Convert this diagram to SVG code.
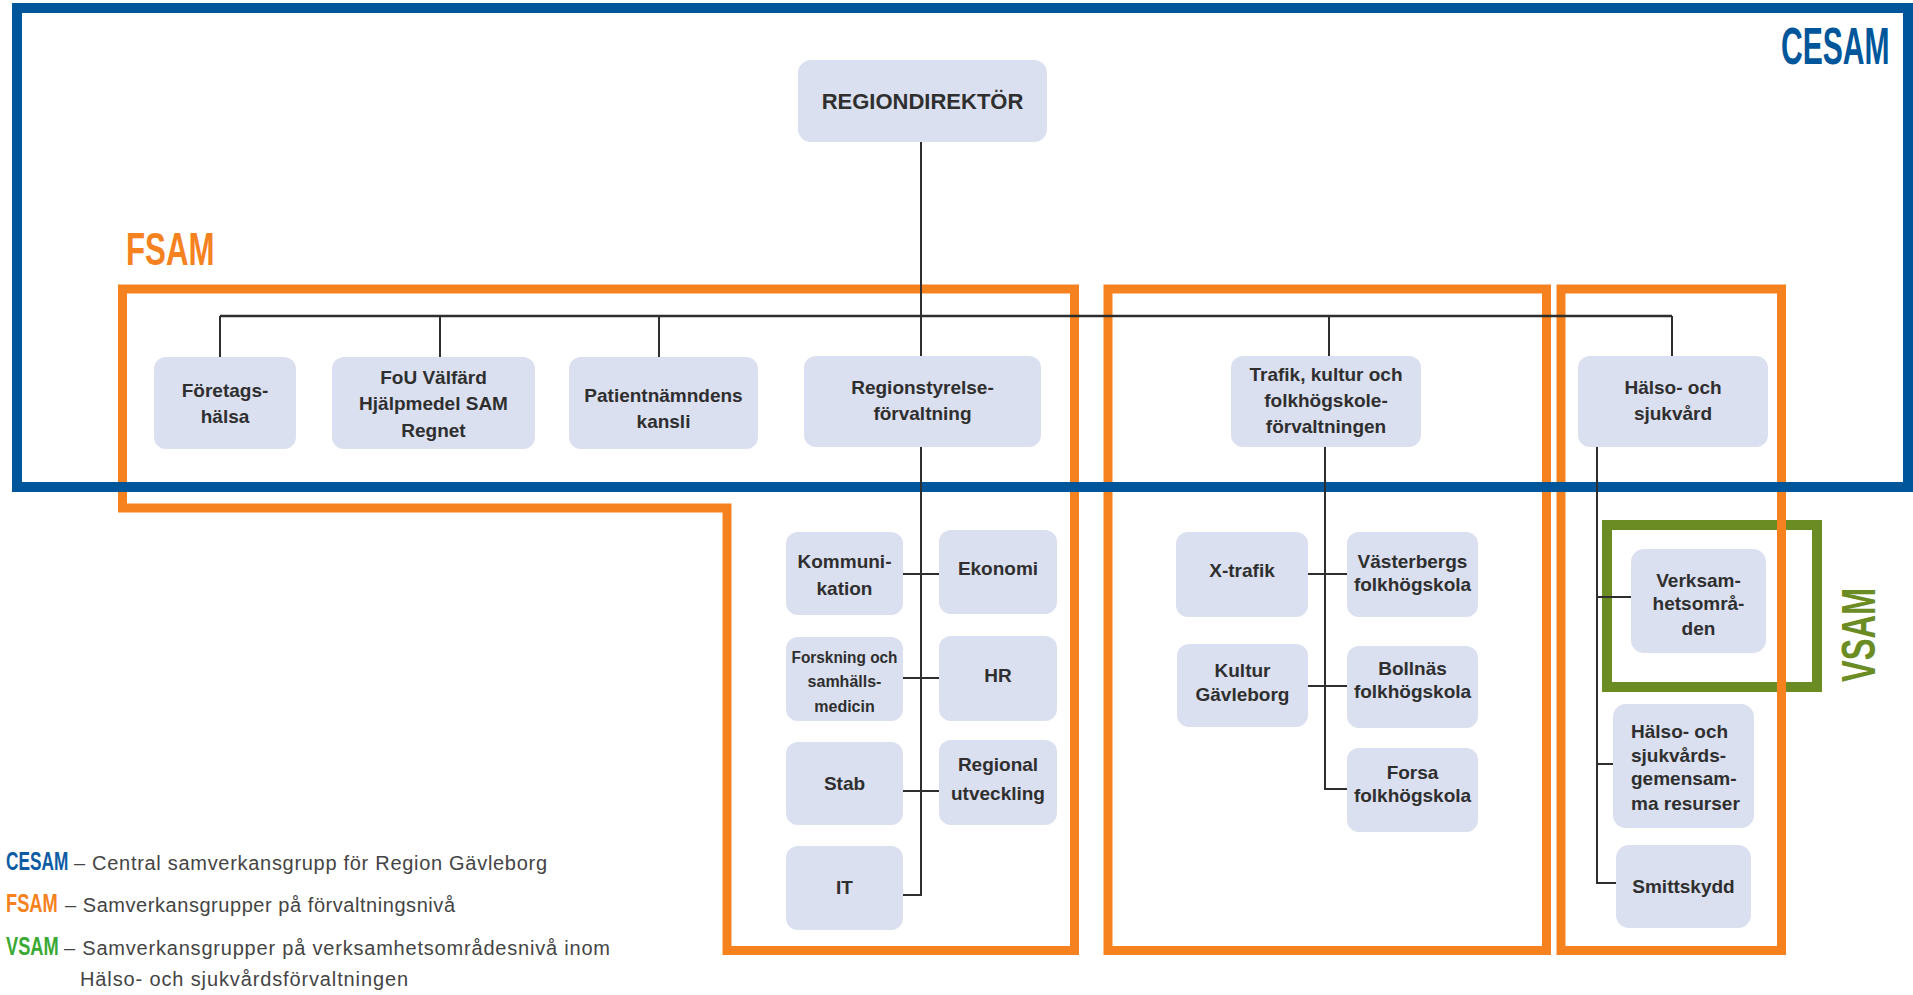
<svg xmlns="http://www.w3.org/2000/svg" width="1913" height="995" viewBox="0 0 1913 995">
<style>
.node rect{fill:#dbe0f0}
.node text{font-family:"Liberation Sans",Arial,sans-serif;font-weight:bold;font-size:19px;fill:#2f2f2f;text-anchor:middle}
.node text.sm{font-size:16px}
.node text.left{text-anchor:start}
.conn line{stroke:#2e2e2e;stroke-width:2;fill:none}
.orange{fill:none;stroke:#f5821f;stroke-width:9}
.green{fill:none;stroke:#6b8b23;stroke-width:10}
.blue{fill:none;stroke:#00569a;stroke-width:10}
.acr{font-family:"Liberation Sans",Arial,sans-serif;font-weight:bold}
.leg{font-family:"Liberation Sans",Arial,sans-serif;font-size:20px;fill:#444}
</style>
<rect width="1913" height="995" fill="#ffffff"/>

<g id="frames">
  <rect id="vsam-frame" class="green" x="1607" y="525" width="210" height="162"/>
  <path id="fsam-frame-1" class="orange" d="M122.5 289 H1074.5 V950.5 H727 V508 H122.5 Z"/>
  <rect id="fsam-frame-2" class="orange" x="1108" y="289" width="438.5" height="661.5"/>
  <rect id="fsam-frame-3" class="orange" x="1561" y="289" width="220.5" height="661.5"/>
  <rect id="cesam-frame" class="blue" x="17" y="8" width="1891" height="479"/>
</g>

<g id="group-labels">
  <text class="acr" transform="matrix(0.59,0,0,1,1781,64)" x="0" y="0" font-size="51" fill="#00569a">CESAM</text>
  <text class="acr" transform="matrix(0.68,0,0,1,126,265)" x="0" y="0" font-size="46" fill="#f5821f">FSAM</text>
  <text class="acr" transform="matrix(0,-0.665,1,0,1875,682)" x="0" y="0" font-size="49" fill="#6b8b23">VSAM</text>
</g>

<g id="nodes">
  <g id="n-regiondirektor" class="node"><rect x="798" y="60" width="249" height="82" rx="13"/><text x="922.5" y="109" style="font-size:22px">REGIONDIREKTÖR</text></g>

  <g id="n-foretagshalsa" class="node"><rect x="154" y="357" width="142" height="92" rx="12"/><text x="225" y="397">Företags-</text><text x="225" y="423">hälsa</text></g>
  <g id="n-fou" class="node"><rect x="332" y="357" width="203" height="92" rx="12"/><text x="433.5" y="384">FoU Välfärd</text><text x="433.5" y="410">Hjälpmedel SAM</text><text x="433.5" y="437">Regnet</text></g>
  <g id="n-patient" class="node"><rect x="569" y="357" width="189" height="92" rx="12"/><text x="663.5" y="402">Patientnämndens</text><text x="663.5" y="428">kansli</text></g>
  <g id="n-regionstyrelse" class="node"><rect x="804" y="356" width="237" height="91" rx="12"/><text x="922.5" y="394">Regionstyrelse-</text><text x="922.5" y="420">förvaltning</text></g>
  <g id="n-trafik" class="node"><rect x="1231" y="356" width="190" height="91" rx="12"/><text x="1326" y="381">Trafik, kultur och</text><text x="1326" y="407">folkhögskole-</text><text x="1326" y="433">förvaltningen</text></g>
  <g id="n-halso" class="node"><rect x="1578" y="356" width="190" height="91" rx="12"/><text x="1673" y="394">Hälso- och</text><text x="1673" y="420">sjukvård</text></g>

  <g id="n-kommunikation" class="node"><rect x="786" y="532" width="117" height="83" rx="12"/><text x="844.5" y="568">Kommuni-</text><text x="844.5" y="595">kation</text></g>
  <g id="n-ekonomi" class="node"><rect x="939" y="530" width="118" height="84" rx="12"/><text x="998" y="575">Ekonomi</text></g>
  <g id="n-forskning" class="node"><rect x="786" y="637" width="117" height="84" rx="12"/><text class="sm" x="844.5" y="663" textLength="106" lengthAdjust="spacingAndGlyphs">Forskning och</text><text class="sm" x="844.5" y="687">samhälls-</text><text class="sm" x="844.5" y="712">medicin</text></g>
  <g id="n-hr" class="node"><rect x="939" y="636" width="118" height="85" rx="12"/><text x="998" y="682">HR</text></g>
  <g id="n-stab" class="node"><rect x="786" y="742" width="117" height="83" rx="12"/><text x="844.5" y="790">Stab</text></g>
  <g id="n-regional" class="node"><rect x="939" y="740" width="118" height="85" rx="12"/><text x="998" y="771">Regional</text><text x="998" y="800">utveckling</text></g>
  <g id="n-it" class="node"><rect x="786" y="846" width="117" height="84" rx="12"/><text x="844.5" y="894">IT</text></g>

  <g id="n-xtrafik" class="node"><rect x="1176" y="532" width="132" height="85" rx="12"/><text x="1242" y="577">X-trafik</text></g>
  <g id="n-vasterbergs" class="node"><rect x="1347" y="532" width="131" height="85" rx="12"/><text x="1412.5" y="568">Västerbergs</text><text x="1412.5" y="591">folkhögskola</text></g>
  <g id="n-kultur" class="node"><rect x="1177" y="644" width="131" height="83" rx="12"/><text x="1242.5" y="677">Kultur</text><text x="1242.5" y="701">Gävleborg</text></g>
  <g id="n-bollnas" class="node"><rect x="1347" y="646" width="131" height="82" rx="12"/><text x="1412.5" y="675">Bollnäs</text><text x="1412.5" y="698">folkhögskola</text></g>
  <g id="n-forsa" class="node"><rect x="1347" y="748" width="131" height="84" rx="12"/><text x="1412.5" y="779">Forsa</text><text x="1412.5" y="802">folkhögskola</text></g>

  <g id="n-verksamhet" class="node"><rect x="1631" y="549" width="135" height="104" rx="13"/><text x="1698.5" y="587">Verksam-</text><text x="1698.5" y="610">hetsområ-</text><text x="1698.5" y="635">den</text></g>
  <g id="n-gemensamma" class="node"><rect x="1613" y="704" width="141" height="124" rx="13"/><text class="left" x="1631" y="738">Hälso- och</text><text class="left" x="1631" y="762">sjukvårds-</text><text class="left" x="1631" y="785">gemensam-</text><text class="left" x="1631" y="810">ma resurser</text></g>
  <g id="n-smittskydd" class="node"><rect x="1616" y="845" width="135" height="83" rx="13"/><text x="1683.5" y="893">Smittskydd</text></g>
</g>

<g id="connectors" class="conn">
  <line x1="921" y1="142" x2="921" y2="356"/>
  <line x1="220" y1="316" x2="1672" y2="316" style="stroke-width:2.6"/>
  <line x1="220" y1="316" x2="220" y2="357"/>
  <line x1="440" y1="316" x2="440" y2="357"/>
  <line x1="659" y1="316" x2="659" y2="357"/>
  <line x1="1329" y1="316" x2="1329" y2="356"/>
  <line x1="1672" y1="316" x2="1672" y2="356"/>

  <line x1="921" y1="447" x2="921" y2="895"/>
  <line x1="903" y1="574" x2="939" y2="574"/>
  <line x1="903" y1="678" x2="939" y2="678"/>
  <line x1="903" y1="791" x2="939" y2="791"/>
  <line x1="903" y1="895" x2="922" y2="895"/>

  <line x1="1325" y1="447" x2="1325" y2="789"/>
  <line x1="1308" y1="574" x2="1347" y2="574"/>
  <line x1="1308" y1="686" x2="1347" y2="686"/>
  <line x1="1324" y1="789" x2="1347" y2="789"/>

  <line x1="1597" y1="447" x2="1597" y2="883"/>
  <line x1="1596" y1="597" x2="1631" y2="597"/>
  <line x1="1596" y1="764" x2="1613" y2="764"/>
  <line x1="1596" y1="883" x2="1616" y2="883"/>
</g>

<g id="legend">
  <text class="acr" transform="matrix(0.69,0,0,1,6,870)" x="0" y="0" font-size="25" fill="#0d5ca3">CESAM</text>
  <text class="leg" x="74" y="870" textLength="473" lengthAdjust="spacing">– Central samverkansgrupp för Region Gävleborg</text>
  <text class="acr" transform="matrix(0.73,0,0,1,6,912)" x="0" y="0" font-size="25" fill="#f5821f">FSAM</text>
  <text class="leg" x="65" y="912" textLength="390" lengthAdjust="spacing">– Samverkansgrupper på förvaltningsnivå</text>
  <text class="acr" transform="matrix(0.73,0,0,1,6,955)" x="0" y="0" font-size="25" fill="#3aaa35">VSAM</text>
  <text class="leg" x="64" y="955" textLength="546" lengthAdjust="spacing">– Samverkansgrupper på verksamhetsområdesnivå inom</text>
  <text class="leg" x="80" y="986" textLength="328" lengthAdjust="spacing">Hälso- och sjukvårdsförvaltningen</text>
</g>
</svg>
